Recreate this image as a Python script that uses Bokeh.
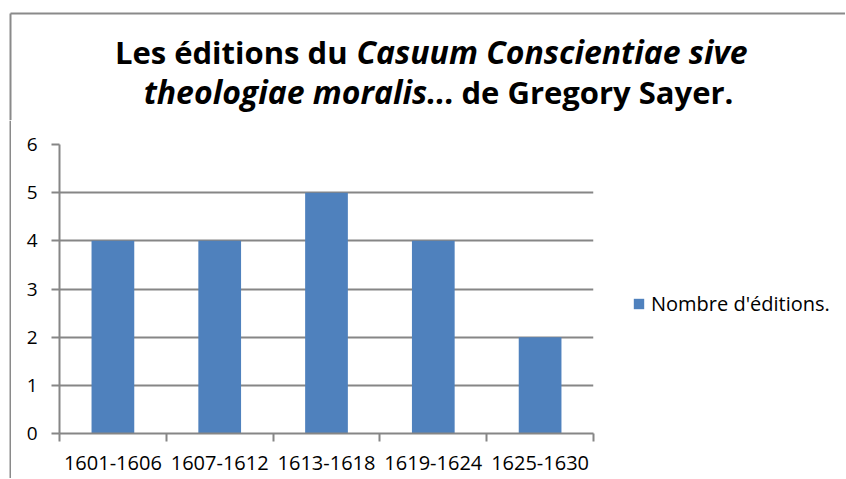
from bokeh.plotting import figure
from bokeh.models import FixedTicker, Range1d, Legend, LegendItem, ColumnDataSource
from bokeh.layouts import column, row
from bokeh.core.properties import value
from bokeh.embed import file_html
from bokeh.resources import INLINE

categories = ["1601-1606", "1607-1612", "1613-1618", "1619-1624", "1625-1630"]
values = [4, 4, 5, 4, 2]
y_ticks = [0, 1, 2, 3, 4, 5, 6]
series_name = "Nombre d'éditions."
title_line1 = ["Les éditions du", "Casuum Conscientiae sive"]
title_line2 = ["theologiae moralis...", "de Gregory Sayer."]

FONT = "Open Sans"
GRAY = "#868686"
BORDER = "#8a8a8a"
BAR = "#4F81BD"

TOTAL_W = 845
TH, MH = 120, 358
SW = 11
PW = 587
LW = TOTAL_W - SW - PW

def blank(fig):
    fig.outline_line_color = None
    fig.grid.visible = False
    fig.background_fill_color = "white"
    fig.border_fill_color = "white"

# ---- title figure (also draws the chart-area border) ----
t = figure(width=TOTAL_W, height=TH, output_backend="svg", toolbar_location=None,
           x_range=Range1d(0, TOTAL_W), y_range=Range1d(TH, 0), sizing_mode="fixed",
           min_border=0, x_axis_location=None, y_axis_location=None, frame_align=False)
blank(t)
t.segment(x0=[10, 10], y0=[13, 13], x1=[TOTAL_W, 10], y1=[13, TH],
          line_color=BORDER, line_width=2)

def ttext(x, y, txt, align, italic):
    t.text(x=[x], y=[y], text=[txt], text_align=align, text_baseline="alphabetic",
           text_font=value(FONT), text_font_size="32px" if italic else "31px",
           text_font_style="bold italic" if italic else "bold", text_color="black")

ttext(347, 51, title_line1[0], "right", False)
ttext(356, 51, title_line1[1], "left", True)
ttext(454, 91, title_line2[0], "right", True)
ttext(461, 91, title_line2[1], "left", False)

# ---- left border strip ----
s = figure(width=SW, height=MH, output_backend="svg", toolbar_location=None,
           x_range=Range1d(0, SW), y_range=Range1d(0, MH), sizing_mode="fixed",
           min_border=0, x_axis_location=None, y_axis_location=None, frame_align=False)
blank(s)
s.segment(x0=[10], y0=[0], x1=[10], y1=[MH], line_color=BORDER, line_width=2)

# ---- main chart ----
p = figure(width=PW, height=MH, output_backend="svg", toolbar_location=None,
           x_range=Range1d(0, len(categories)), y_range=Range1d(0, 6), sizing_mode="fixed",
           min_border_left=48, min_border_right=5, min_border_top=24, min_border_bottom=45,
           frame_align=False)
p.outline_line_color = None

centers = [i + 0.5 for i in range(len(categories))]
bounds = [i for i in range(len(categories) + 1)]
bars = p.vbar(x=centers, top=values, width=0.4, fill_color=BAR, line_color=None)

p.xgrid.visible = False
p.ygrid.ticker = FixedTicker(ticks=y_ticks)
p.ygrid.grid_line_color = GRAY
p.ygrid.grid_line_width = 2

ya = p.yaxis[0]
ya.ticker = FixedTicker(ticks=y_ticks, minor_ticks=[])
ya.axis_line_color = GRAY
ya.axis_line_width = 2
ya.major_tick_line_color = GRAY
ya.major_tick_line_width = 2
ya.major_tick_out = 8
ya.major_tick_in = 0
ya.minor_tick_line_color = None
ya.major_label_text_font = FONT
ya.major_label_text_font_size = "19px"
ya.major_label_text_color = "black"
ya.major_label_standoff = 14

xa = p.xaxis[0]
xa.ticker = FixedTicker(ticks=centers, minor_ticks=bounds)
xa.major_label_overrides = {c: lab for c, lab in zip(centers, categories)}
xa.axis_line_color = GRAY
xa.axis_line_width = 2
xa.major_tick_line_color = None
xa.major_tick_out = 0
xa.major_tick_in = 0
xa.minor_tick_line_color = GRAY
xa.minor_tick_line_width = 2
xa.minor_tick_out = 8
xa.minor_tick_in = 0
xa.major_label_text_font = FONT
xa.major_label_text_font_size = "20px"
xa.major_label_text_color = "black"
xa.major_label_standoff = 14

# ---- legend figure ----
lf = figure(width=LW, height=MH, output_backend="svg", toolbar_location=None,
            x_range=Range1d(0, 1), y_range=Range1d(0, 1), sizing_mode="fixed",
            min_border=0, x_axis_location=None, y_axis_location=None, frame_align=False)
blank(lf)
# legend key proxy: a single zero-height bar lying outside the visible range
key_src = ColumnDataSource(data=dict(x=[-1.0], top=[0.0]))
key = lf.vbar(x="x", top="top", width=0.4, source=key_src, fill_color=BAR, line_color=None)
leg = Legend(items=[LegendItem(label=series_name, renderers=[key])],
             location=(34, 161), border_line_color=None, background_fill_alpha=0,
             padding=0, margin=0, glyph_width=13, glyph_height=13, label_standoff=6,
             label_text_font=FONT, label_text_font_size="20px", label_text_color="black")
lf.add_layout(leg)

layout = column(t, row(s, p, lf, spacing=0), spacing=0)

open("out.html", "w").write(file_html(layout, INLINE))
